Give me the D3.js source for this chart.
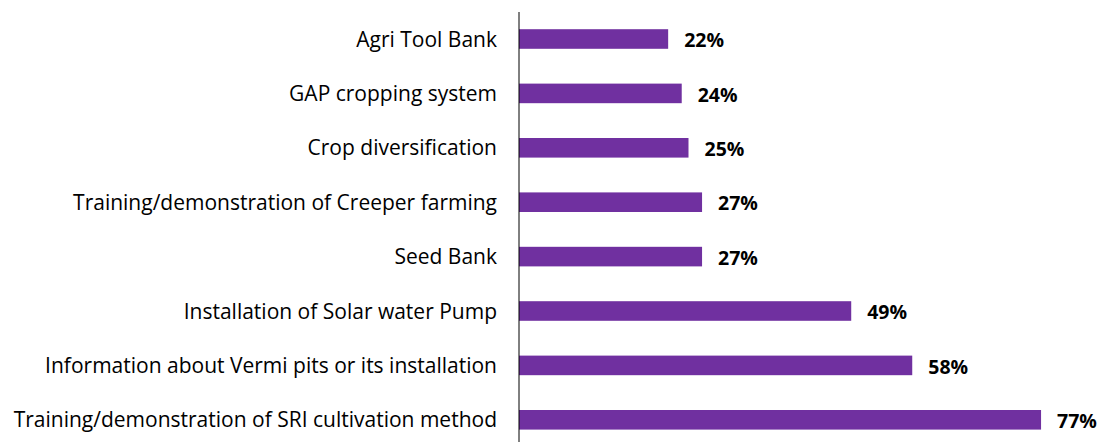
<!DOCTYPE html>
<html>
<head>
<meta charset="utf-8">
<script src="https://cdn.jsdelivr.net/npm/d3@7/dist/d3.min.js"></script>
<style>
  html, body { margin: 0; padding: 0; background: #fff; }
  svg { display: block; }
</style>
</head>
<body>
<svg id="chart" width="1101" height="442"></svg>
<script>
// Share of respondents aware of each intervention
const categories = [
  "Agri Tool Bank",
  "GAP cropping system",
  "Crop diversification",
  "Training/demonstration of Creeper farming",
  "Seed Bank",
  "Installation of Solar water Pump",
  "Information about Vermi pits or its installation",
  "Training/demonstration of SRI cultivation method"
];
const values = [22, 24, 25, 27, 27, 49, 58, 77];

const svg = d3.select("#chart");
const axisX = 519;
const font = "'Open Sans', Lato, sans-serif";

const y = d3.scaleBand()
  .domain(categories)
  .range([11.8, 447])
  .paddingInner(0.64)
  .paddingOuter(0.32);

const x = d3.scaleLinear()
  .domain([0, 100])
  .range([axisX, axisX + 678]);

// bars
svg.append("g")
  .selectAll("rect")
  .data(values)
  .join("rect")
  .attr("x", x(0))
  .attr("y", (d, i) => y(categories[i]))
  .attr("width", d => x(d) - x(0))
  .attr("height", y.bandwidth())
  .attr("fill", "#7030A0");

// value labels
svg.append("g")
  .selectAll("text")
  .data(values)
  .join("text")
  .attr("x", d => x(d) + 16)
  .attr("y", (d, i) => y(categories[i]) + y.bandwidth() / 2)
  .attr("dy", "0.42em")
  .attr("font-family", font)
  .attr("font-weight", "bold")
  .attr("font-size", 19.5)
  .attr("fill", "#000")
  .text(d => d + "%");

// category axis
const yAxis = d3.axisLeft(y).tickSize(0).tickPadding(22);
const g = svg.append("g")
  .attr("transform", `translate(${axisX},0)`)
  .call(yAxis);
g.select(".domain").remove();
g.selectAll("text")
  .attr("font-family", font)
  .attr("font-size", 21)
  .attr("dy", "0.36em")
  .attr("fill", "#000");

svg.append("line")
  .attr("x1", axisX).attr("x2", axisX)
  .attr("y1", 12).attr("y2", 442)
  .attr("stroke", "#000")
  .attr("stroke-width", 1);
</script>
</body>
</html>
